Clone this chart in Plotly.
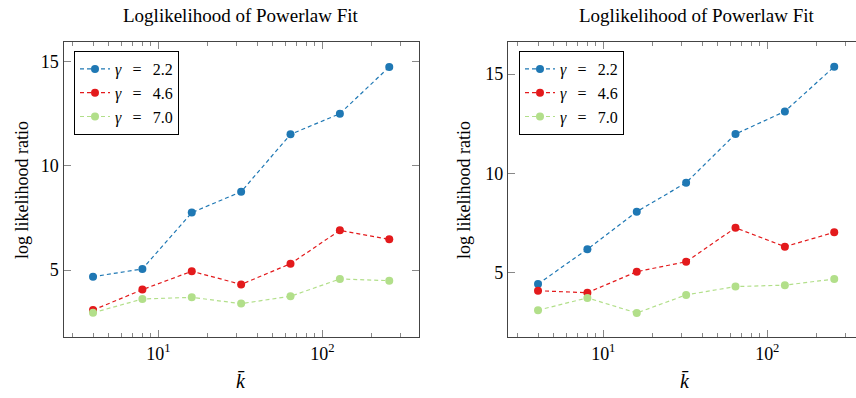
import plotly.graph_objects as go

k_values = [4, 8, 16, 32, 64, 128, 256]

left_g22 = [4.68, 5.05, 7.75, 8.75, 11.5, 12.49, 14.73]
left_g46 = [3.08, 4.06, 4.94, 4.31, 5.30, 6.90, 6.47]
left_g70 = [2.95, 3.61, 3.69, 3.39, 3.74, 4.57, 4.49]

right_g22 = [4.43, 6.18, 8.07, 9.53, 11.98, 13.12, 15.37]
right_g46 = [4.09, 3.99, 5.05, 5.55, 7.26, 6.31, 7.03]
right_g70 = [3.11, 3.73, 2.97, 3.88, 4.30, 4.37, 4.68]

SP = "\u2002\u2009"
series_names = [f"<i>γ</i>{SP}={SP}2.2", f"<i>γ</i>{SP}={SP}4.6", f"<i>γ</i>{SP}={SP}7.0"]
colors = ["#1f78b4", "#e31a1c", "#b2df8a"]

title_text = "Loglikelihood of Powerlaw Fit"
ylabel_text = "log likelihood ratio"
xlabel_text = "<i>k̄</i>"

FONT = "Liberation Serif"
W, H = 856, 398

fig = go.Figure()

panels = [
    ("x", "y", "legend", [left_g22, left_g46, left_g70]),
    ("x2", "y2", "legend2", [right_g22, right_g46, right_g70]),
]
for xa, ya, leg, data in panels:
    for name, col, vals in zip(series_names, colors, data):
        fig.add_trace(go.Scatter(
            x=k_values, y=vals, name=name, xaxis=xa, yaxis=ya, legend=leg,
            mode="lines+markers",
            line=dict(color=col, width=1.2, dash="4px,3px"),
            marker=dict(color=col, size=8, symbol="circle"),
        ))

def px_x(p):
    return p / W

def px_y(p):
    return (H - p) / H

axis_line = "#444444"
tick_col = "#888888"

xcommon = dict(
    type="log", showgrid=False, zeroline=False, automargin=False,
    showline=True, linecolor=axis_line, linewidth=1.2,
    ticks="inside", ticklen=7, tickcolor=tick_col, tickwidth=1,
    mirror="allticks",
    tickvals=[10, 100], ticktext=["10<sup>1</sup>", "10<sup>2</sup>"],
    minor=dict(ticks="inside", ticklen=4, tickcolor=tick_col, tickwidth=1,
               tickvals=[3, 4, 5, 6, 7, 8, 9, 20, 30, 40, 50, 60, 70, 80, 90, 200, 300],
               showgrid=False),
    tickfont=dict(family=FONT, size=18, color="black"),
)
ycommon = dict(
    showgrid=False, zeroline=False, automargin=False,
    showline=True, linecolor=axis_line, linewidth=1.2,
    ticks="inside", ticklen=7, tickcolor=tick_col, tickwidth=1,
    tickvals=[5, 10, 15],
    tickfont=dict(family=FONT, size=18, color="black"),
)

ybot, ytop = px_y(337), px_y(42.3)

def ann(text, x, y, size, angle=0):
    return dict(text=text, x=px_x(x), y=px_y(y), xref="paper", yref="paper",
                showarrow=False, xanchor="center", yanchor="middle", textangle=angle,
                font=dict(family=FONT, size=size, color="black"))

legend_common = dict(xanchor="left", yanchor="top",
                     bordercolor="black", borderwidth=1, bgcolor="white",
                     font=dict(family=FONT, size=16, color="black"), tracegroupgap=0)

fig.update_layout(
    width=W, height=H,
    font=dict(family=FONT, color="black"),
    margin=dict(l=0, r=0, t=0, b=0, autoexpand=False),
    paper_bgcolor="white", plot_bgcolor="white",
    xaxis=dict(xcommon, domain=[px_x(63.5), px_x(419)], range=[0.422, 2.5896], anchor="y"),
    yaxis=dict(ycommon, domain=[ybot, ytop], range=[1.79, 15.91], anchor="x", mirror="ticks"),
    xaxis2=dict(xcommon, domain=[px_x(508), 1.0], range=[0.419, 2.541], anchor="y2"),
    yaxis2=dict(ycommon, domain=[ybot, ytop], range=[1.76, 16.6], anchor="x2", mirror=False),
    legend=dict(legend_common, x=px_x(74), y=px_y(51)),
    legend2=dict(legend_common, x=px_x(519), y=px_y(51)),
    annotations=[
        ann(title_text, 241, 16, 19),
        ann(title_text, 697, 16, 19),
        ann(ylabel_text, 22, 190, 18, -90),
        ann(ylabel_text, 464, 190, 18, -90),
        ann(xlabel_text, 241, 381, 20),
        ann(xlabel_text, 685, 381, 20),
    ],
)

fig.write_html("out.html", config={"displayModeBar": False},
               post_script="document.body.style.margin='0';document.body.style.overflow='hidden';")
